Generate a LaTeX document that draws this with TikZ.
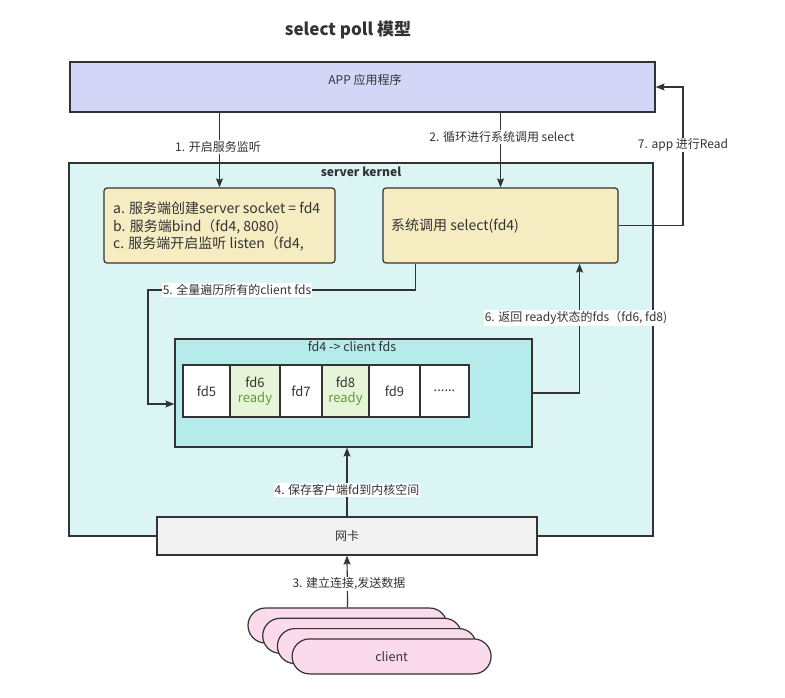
\documentclass[tikz,border=0pt]{standalone}
\usepackage{fontspec}
\setmainfont{Noto Sans CJK SC}
\usetikzlibrary{positioning, calc, arrows.meta}

\definecolor{ink}{HTML}{333333}
\definecolor{appfill}{HTML}{D4D6F8}
\definecolor{kernelfill}{HTML}{DBF5F5}
\definecolor{notefill}{HTML}{F6ECC2}
\definecolor{setfill}{HTML}{B6EBEB}
\definecolor{readyfill}{HTML}{E6F5D8}
\definecolor{readytext}{HTML}{5E9B3C}
\definecolor{nicfill}{HTML}{F2F2F2}
\definecolor{clientfill}{HTML}{FADAEB}

\begin{document}
\begin{tikzpicture}[x=1pt, y=-1pt,
                    every node/.style={text=ink},
                    box/.style={rectangle, draw=ink, line width=1.2pt, inner sep=0pt},
                    note/.style={box, fill=notefill, rounded corners=3pt, minimum height=75pt},
                    cell/.style={box, fill=white, outer sep=0pt, minimum height=52pt, align=center, font=\fontsize{13}{15}\selectfont},
                    readycell/.style={cell, fill=readyfill},
                    client/.style={box, fill=clientfill, rounded corners=17.5pt, minimum width=199pt, minimum height=35pt},
                    txt/.style={inner sep=0pt, font=\fontsize{14}{17.5}\selectfont},
                    lbl/.style={fill=white, inner sep=1pt, font=\fontsize{12}{14}\selectfont},
                    arr/.style={-{Stealth[length=9pt, width=7pt, inset=1.5pt]}, draw=ink, line width=1.2pt}]

    \useasboundingbox (0,0) rectangle (785,698);

    % Title
    \node[font=\bfseries\fontsize{17}{20}\selectfont] (title) at (348,30) {select poll 模型};

    % Nodes
    \node[box, fill=appfill, minimum width=585pt, minimum height=50pt] (app) at (362.5,87) {};
    \node[txt, font=\fontsize{12}{14}\selectfont] (apptext) at (365,80) {APP 应用程序};

    \node[box, fill=kernelfill, minimum width=584pt, minimum height=373pt] (kernel) at (361,349.5) {};
    \node[txt, font=\bfseries\fontsize{12}{14}\selectfont] (kerneltext) at (361,172) {server kernel};

    \node[note, minimum width=231pt] (srvbox) at (219.5,225.5) {};
    \node[txt, anchor=west, align=left] (srvtext) at (113,226.5) {a. 服务端创建server socket = fd4\\b. 服务端bind（fd4, 8080)\\c. 服务端开启监听 listen（fd4,};

    \node[note, minimum width=235pt] (selectbox) at (500.5,225.5) {};
    \node[txt, anchor=west] (selecttext) at (391,225.5) {系统调用 select(fd4)};

    \node[box, fill=setfill, minimum width=357pt, minimum height=108pt] (fdset) at (353.5,393) {};
    \node[txt, font=\fontsize{12.5}{14}\selectfont] (fdsettext) at (352,347) {fd4 -> client fds};

    \node[cell, minimum width=47pt] (fd5) at (206.5,391) {fd5};
    \node[readycell, minimum width=50pt, right=0pt of fd5] (fd6) {fd6\\\textcolor{readytext}{ready}};
    \node[cell, minimum width=42pt, right=0pt of fd6] (fd7) {fd7};
    \node[readycell, minimum width=47pt, right=0pt of fd7] (fd8) {fd8\\\textcolor{readytext}{ready}};
    \node[cell, minimum width=51pt, right=0pt of fd8] (fd9) {fd9};
    \node[cell, minimum width=49pt, right=0pt of fd9] (fdmore) {......};

    \node[box, fill=nicfill, minimum width=380pt, minimum height=38pt, font=\fontsize{12}{14}\selectfont] (nic) at (347,536) {网卡};

    \node[client] (client1) at (347.5,625.5) {};
    \node[client] (client2) at (362.2,635.8) {};
    \node[client] (client3) at (376.9,646.1) {};
    \node[client, font=\fontsize{12.5}{14}\selectfont] (client4) at (391.6,656.4) {client};

    % Paths
    \coordinate (r7) at (683,87);
    \coordinate (c5) at (148,290);
    \draw[arr] (srvbox.north |- app.south) -- (srvbox.north);
    \draw[arr] (selectbox.north |- app.south) -- (selectbox.north);
    \draw[arr] (selectbox.east) -| (r7) -- (app.east |- r7);
    \draw[arr] ($(selectbox.south west)+(33,0)$) |- (c5) |- ($(fdset.west)+(0,11)$);
    \draw[arr] (fdset.east) -| ($(selectbox.south east)+(-39,0)$);
    \draw[arr] (nic.north) -- (nic.north |- fdset.south);
    \draw[arr] (client1.north) -- (nic.south);

    % Labels
    \node[lbl] (l1) at (218,147) {1. 开启服务监听};
    \node[lbl] (l2) at (502,137) {2. 循环进行系统调用 select};
    \node[lbl] (l7) at (683,145) {7. app 进行Read};
    \node[lbl] (l5) at (237,290) {5. 全量遍历所有的client fds};
    \node[lbl] (l6) at (576,318) {6. 返回 ready状态的fds（fd6, fd8)};
    \node[lbl] (l4) at (347,490) {4. 保存客户端fd到内核空间};
    \node[lbl] (l3) at (349,584) {3. 建立连接,发送数据};

\end{tikzpicture}
\end{document}
